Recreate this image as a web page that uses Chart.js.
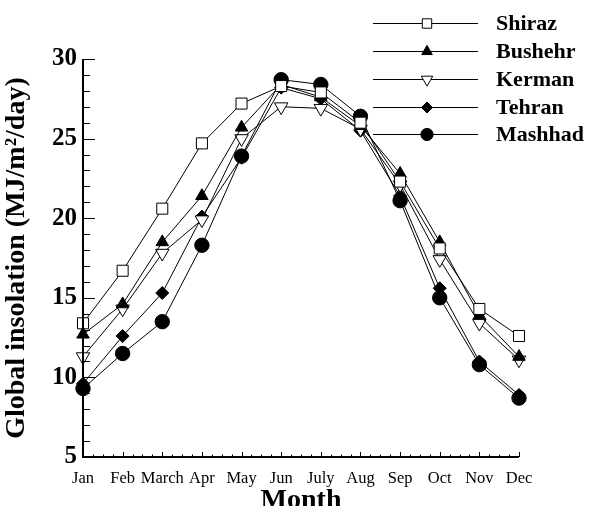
<!DOCTYPE html>
<html>
<head>
<meta charset="utf-8">
<script src="https://cdn.jsdelivr.net/npm/chart.js@4/dist/chart.umd.min.js"></script>
<style>
  html, body { margin: 0; padding: 0; background: #fff; }
  #wrap { width: 589px; height: 506px; }
</style>
</head>
<body>
<div id="wrap"><canvas id="insChart" width="589" height="506"></canvas></div>
<script>
// monthly global insolation, MJ/m2/day
const months = ['Jan', 'Feb', 'March', 'Apr', 'May', 'Jun', 'July', 'Aug', 'Sep', 'Oct', 'Nov', 'Dec'];
const cities = ['Shiraz', 'Bushehr', 'Kerman', 'Tehran', 'Mashhad'];
const shiraz  = [13.4, 16.7, 20.6, 24.7, 27.2, 28.3, 27.9, 26.0, 22.3, 18.1, 14.3, 12.6];
const bushehr = [12.7, 14.6, 18.5, 21.4, 25.7, 28.4, 27.6, 25.8, 22.8, 18.5, 13.9, 11.3];
const kerman  = [11.3, 14.3, 17.8, 19.9, 25.0, 27.0, 26.9, 25.6, 22.1, 17.4, 13.4, 11.1];
const tehran  = [9.6, 12.6, 15.3, 20.1, 23.8, 28.2, 27.5, 25.5, 21.4, 15.6, 11.0, 8.9];
const mashhad = [9.3, 11.5, 13.5, 18.3, 23.9, 28.7, 28.4, 26.4, 21.1, 15.0, 10.8, 8.7];
const yTicks = [5, 10, 15, 20, 25, 30];

const serif = '"Liberation Serif", "DejaVu Serif", serif';

const styles = [
  { pointStyle: 'rect', radius: 7.8, fill: '#fff', rotation: 0 },
  { pointStyle: 'triangle', radius: 7.2, fill: '#000', rotation: 0 },
  { pointStyle: 'triangle', radius: 7.8, fill: '#fff', rotation: 180 },
  { pointStyle: 'rectRot', radius: 6.5, fill: '#000', rotation: 0 },
  { pointStyle: 'circle', radius: 7.2, fill: '#000', rotation: 0 }
];
const series = [shiraz, bushehr, kerman, tehran, mashhad];

const datasets = series.map((vals, i) => ({
  label: cities[i],
  data: vals,
  borderColor: '#000',
  borderWidth: 1,
  pointStyle: styles[i].pointStyle,
  pointRadius: styles[i].radius,
  pointRotation: styles[i].rotation,
  pointBackgroundColor: styles[i].fill,
  pointBorderColor: '#000',
  pointBorderWidth: 1,
  tension: 0,
  fill: false
}));

// inward ticks on the left and bottom axes (major + minor)
const axisTicks = {
  id: 'axisTicks',
  afterDraw(chart) {
    const { ctx, chartArea: a, scales: { x, y } } = chart;
    ctx.save();
    ctx.strokeStyle = '#000';
    ctx.lineWidth = 2;
    ctx.beginPath();
    ctx.moveTo(a.left, a.top);
    ctx.lineTo(a.left, a.bottom);
    ctx.lineTo(a.right, a.bottom);
    ctx.stroke();
    ctx.lineWidth = 1;
    for (let v = 5; v <= 30; v++) {
      const py = Math.round(y.getPixelForValue(v)) + 0.5;
      const len = v % 5 === 0 ? 12 : 7;
      ctx.beginPath();
      ctx.moveTo(a.left, py);
      ctx.lineTo(a.left + len, py);
      ctx.stroke();
    }
    for (let i = 0; i < months.length; i++) {
      const px = Math.round(x.getPixelForValue(i)) + 0.5;
      ctx.beginPath();
      ctx.moveTo(px, a.bottom);
      ctx.lineTo(px, a.bottom - 5);
      ctx.stroke();
      if (i < months.length - 1) {
        const step = (x.getPixelForValue(i + 1) - x.getPixelForValue(i)) / 4;
        for (let k = 1; k < 4; k++) {
          const mx = Math.round(x.getPixelForValue(i) + k * step) + 0.5;
          ctx.beginPath();
          ctx.moveTo(mx, a.bottom);
          ctx.lineTo(mx, a.bottom - 2.5);
          ctx.stroke();
        }
      }
    }
    ctx.restore();
  }
};

// legend: line with marker in the middle, bold label
const lineLegend = {
  id: 'lineLegend',
  afterDraw(chart) {
    const ctx = chart.ctx;
    const x0 = 373, x1 = 478, xm = 427, tx = 496;
    const rows = [23, 51, 79, 107, 134];
    ctx.save();
    chart.data.datasets.forEach((ds, i) => {
      const yy = rows[i] + 0.5;
      ctx.strokeStyle = '#000';
      ctx.lineWidth = 1;
      ctx.beginPath();
      ctx.moveTo(x0, yy);
      ctx.lineTo(x1, yy);
      ctx.stroke();
      ctx.fillStyle = ds.pointBackgroundColor;
      ctx.strokeStyle = '#000';
      Chart.helpers.drawPoint(ctx, {
        pointStyle: ds.pointStyle,
        rotation: ds.pointRotation,
        radius: ds.pointRadius * 0.85,
        borderWidth: 1
      }, xm, yy);
      ctx.fillStyle = '#000';
      ctx.font = 'bold 22px ' + serif;
      ctx.textAlign = 'left';
      ctx.textBaseline = 'middle';
      ctx.fillText(ds.label, tx, yy + 1);
    });
    ctx.restore();
  }
};

new Chart(document.getElementById('insChart'), {
  type: 'line',
  data: { labels: months, datasets: datasets },
  options: {
    responsive: false,
    animation: false,
    layout: { padding: { top: 59, right: 70, left: 0, bottom: 0 } },
    plugins: { legend: { display: false }, tooltip: { enabled: false } },
    scales: {
      x: {
        offset: false,
        grid: { display: false, drawTicks: false },
        border: { display: false },
        ticks: {
          color: '#000',
          padding: 12,
          maxRotation: 0,
          autoSkip: false,
          font: { family: serif, size: 16.5 }
        },
        title: {
          display: true,
          text: 'Month',
          color: '#000',
          padding: { top: 0, bottom: -12 },
          font: { family: serif, size: 28, weight: 'bold' }
        },
        afterFit(s) { s.height = 49; }
      },
      y: {
        min: 5,
        max: 30,
        afterBuildTicks(s) { s.ticks = yTicks.map(v => ({ value: v })); },
        grid: { display: false, drawTicks: false },
        border: { display: false },
        ticks: {
          color: '#000',
          padding: 6,
          font: { family: serif, size: 25, weight: 'bold' }
        },
        title: {
          display: true,
          text: 'Global insolation (MJ/m\u00B2/day)',
          color: '#000',
          padding: { top: 0, bottom: 2 },
          font: { family: serif, size: 28, weight: 'bold' }
        },
        afterFit(s) { s.width = 83; }
      }
    }
  },
  plugins: [axisTicks, lineLegend]
});
</script>
</body>
</html>
